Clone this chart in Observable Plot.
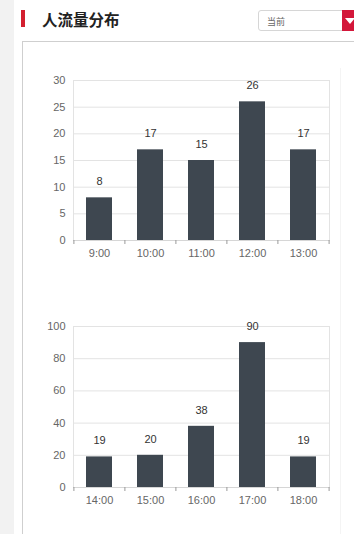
<!DOCTYPE html>
<html><head><meta charset="utf-8">
<script src="https://cdn.jsdelivr.net/npm/d3@7"></script>
<script src="https://cdn.jsdelivr.net/npm/@observablehq/plot@0.6"></script>
<style>
html,body{margin:0;padding:0;background:#fff;width:354px;height:534px;overflow:hidden;font-family:"Liberation Sans",Arial,sans-serif;}
#strip{position:absolute;left:0;top:0;width:14px;height:534px;background:#f2f2f2;}
#redbar{position:absolute;left:21px;top:10px;width:4px;height:17px;background:#d3202f;}
#title{position:absolute;left:42px;top:8px;font:bold 15.5px "Noto Sans CJK SC",sans-serif;color:#222;line-height:22px;}
#dd{position:absolute;left:258px;top:10px;width:96px;height:21px;border:1px solid #d6d6d6;border-radius:3px;box-sizing:border-box;background:#fff;}
#dd span{position:absolute;left:8px;top:4px;font:9px "Noto Sans CJK SC",sans-serif;color:#666;}
#ddbtn{position:absolute;left:342px;top:10px;width:12px;height:21px;background:#d3173a;}
#ddbtn:after{content:"";position:absolute;left:3px;top:8px;border-left:5px solid transparent;border-right:5px solid transparent;border-top:6px solid #fff;}
#panel{position:absolute;left:22px;top:41px;width:340px;height:500px;border-left:1px solid #cfcfcf;border-top:1px solid #cfcfcf;}
#inner{position:absolute;left:340px;top:68px;width:1px;height:466px;background:#f4f4f4;}
.chart{position:absolute;left:0;}
</style></head><body>
<div id="strip"></div>
<div id="redbar"></div>
<div id="title">人流量分布</div>
<div id="dd"><span>当前</span></div>
<div id="ddbtn"></div>
<div id="panel"></div>
<div id="inner"></div>
<div id="c1" class="chart" style="top:60px"></div>
<div id="c2" class="chart" style="top:306px"></div>
<script>
const hours1 = ["9:00","10:00","11:00","12:00","13:00"];
const values1 = [8,17,15,26,17];
const yTicks1 = [0,5,10,15,20,25,30];
const hours2 = ["14:00","15:00","16:00","17:00","18:00"];
const values2 = [19,20,38,90,19];
const yTicks2 = [0,20,40,60,80,100];

function chart(hours, values, yTicks, height) {
  const data = hours.map((h, i) => ({hour: h, value: values[i]}));
  const width = 354, ml = 73, mr = 25;
  const padIn = 0.5, padOut = 0.25;
  const step = (width - ml - mr) / (hours.length - padIn + 2 * padOut);
  const half = step / 2;
  const yMax = yTicks[yTicks.length - 1];
  return Plot.plot({
    width, height,
    marginLeft: ml, marginRight: mr, marginTop: 20, marginBottom: 30,
    style: {fontFamily: '"Liberation Sans", Arial, sans-serif', fontSize: "11px", color: "#666", background: "transparent"},
    x: {domain: hours, paddingInner: padIn, paddingOuter: padOut, label: null},
    y: {domain: [0, yMax], label: null},
    marks: [
      Plot.gridY(yTicks, {stroke: "#e3e3e3", strokeOpacity: 1}),
      Plot.frame({stroke: "#e3e3e3"}),
      Plot.axisY({ticks: yTicks, tickSize: 0, tickPadding: 8, label: null, fill: "#666"}),
      Plot.barY(data, {x: "hour", y: "value", fill: "#3e4750"}),
      Plot.text(data, {x: "hour", y: "value", text: d => String(d.value), dy: -16, fill: "#333", fontSize: 11}),
      Plot.ruleY([0], {stroke: "#d6d6d6"}),
      Plot.axisX({tickSize: 0, tickPadding: 9, label: null, fill: "#666"}),
      Plot.axisX({ticks: hours, tickSize: 4, dx: -half, tickFormat: () => "", label: null, stroke: "#999"}),
      Plot.axisX({ticks: hours.slice(-1), tickSize: 4, dx: half, tickFormat: () => "", label: null, stroke: "#999"})
    ]
  });
}
document.getElementById("c1").append(chart(hours1, values1, yTicks1, 210));
document.getElementById("c2").append(chart(hours2, values2, yTicks2, 211));
</script>
</body></html>
